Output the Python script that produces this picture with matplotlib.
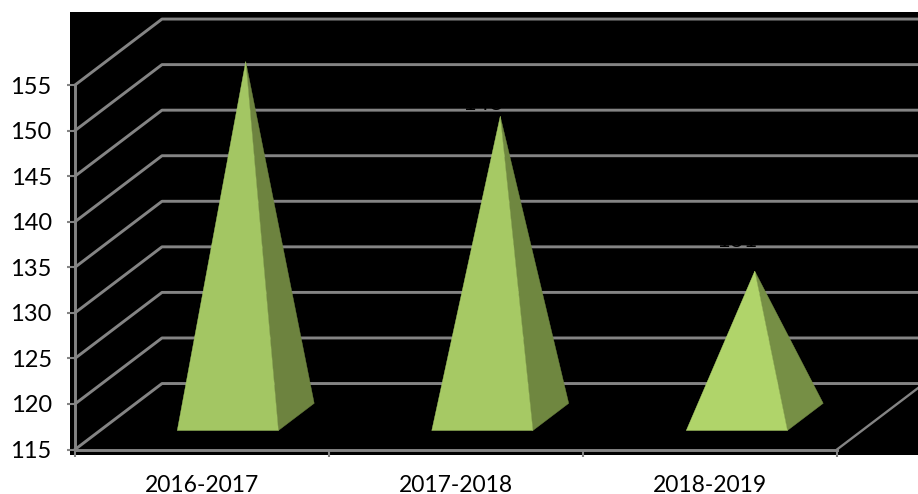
import numpy as np
import matplotlib
matplotlib.use('Agg')
import matplotlib.pyplot as plt

# Dados
anos = ['2016-2017', '2017-2018', '2018-2019']
valores = [154, 148, 131]
niveis = [115, 120, 125, 130, 135, 140, 145, 150, 155]

centros = [0.503, 1.505, 2.507]
cor_frente = ['#A3C663', '#A6C964', '#B0D46A']
cor_lado = ['#6D833F', '#6F8740', '#768F45']
cinza = '#848484'

# Projecao obliqua do grafico 3D
prof_x = 0.3425
prof_y = 7.24
largura = 0.398
prof_ini = 0.288
prof_fim = 0.70


def proj(x, v, d):
    return x + prof_x * d, v + prof_y * d


fig = plt.figure(figsize=(9.18, 4.94), dpi=100)
plt.rcParams['font.family'] = 'Lato'
ax = fig.add_axes([70 / 918, 1 - 455 / 494, 848 / 918, 443 / 494], facecolor='black')
ax.set_xlim(-5 / 254, 843 / 254)
ax.set_ylim(115 - 5.5 / 9.112, 115 + 437.5 / 9.112)

# Grade: parede de fundo e lateral
for v in niveis:
    xa, ya = proj(0, v, 0)
    xb, yb = proj(0, v, 1)
    xc, yc = proj(len(anos) + 1, v, 1)
    ax.plot([xa, xb, xc], [ya, yb, yc], color=cinza, lw=2.1, zorder=1)

xa, ya = proj(len(anos), 115, 0)
xb, yb = proj(len(anos), 115, 1)
ax.plot([xa, xb], [ya, yb], color=cinza, lw=1.7, zorder=1)

# Piramides
for i, val in enumerate(valores):
    c = centros[i]
    fe = proj(c - largura / 2, 115, prof_ini)
    fd = proj(c + largura / 2, 115, prof_ini)
    td = proj(c + largura / 2, 115, prof_fim)
    topo = proj(c, val, (prof_ini + prof_fim) / 2)
    ax.fill([fd[0], td[0], topo[0]], [fd[1], td[1], topo[1]],
            color=cor_lado[i], lw=0.3, zorder=2)
    ax.fill([fe[0], fd[0], topo[0]], [fe[1], fd[1], topo[1]],
            color=cor_frente[i], lw=0.3, zorder=3)

# Rotulos de dados (pretos sobre o fundo preto)
desloc = [(-13, 4.5), (-13, 4.5), (-13, 17.5)]
for i, val in enumerate(valores):
    topo = proj(centros[i], val, (prof_ini + prof_fim) / 2)
    ax.annotate(str(val), topo, xytext=desloc[i], textcoords='offset points',
                ha='center', va='baseline', color='black', fontsize=17, zorder=4)

# Eixos
for s in ['top', 'right']:
    ax.spines[s].set_visible(False)
ax.spines['left'].set_position(('data', 0))
ax.spines['left'].set_bounds(115, 155)
ax.spines['bottom'].set_position(('data', 115))
ax.spines['bottom'].set_bounds(0, len(anos))
for s in ['left', 'bottom']:
    ax.spines[s].set_color(cinza)
    ax.spines[s].set_linewidth(2.1)
    ax.spines[s].set_zorder(5)

ax.set_yticks(niveis)
ax.tick_params(axis='y', length=5.8, width=1.5, color=cinza, pad=11, labelsize=17, labelcolor='black')
ax.set_xticks(np.arange(len(anos) + 1))
ax.set_xticklabels([])
ax.set_xticks(np.arange(len(anos)) + 0.5, labels=anos, minor=True)
ax.tick_params(axis='x', which='major', length=5.2, width=1.5, color=cinza)
ax.tick_params(axis='x', which='minor', length=0, pad=18, labelsize=16.5, labelcolor='black')

fig.savefig('out.png', dpi=100, facecolor='white')
